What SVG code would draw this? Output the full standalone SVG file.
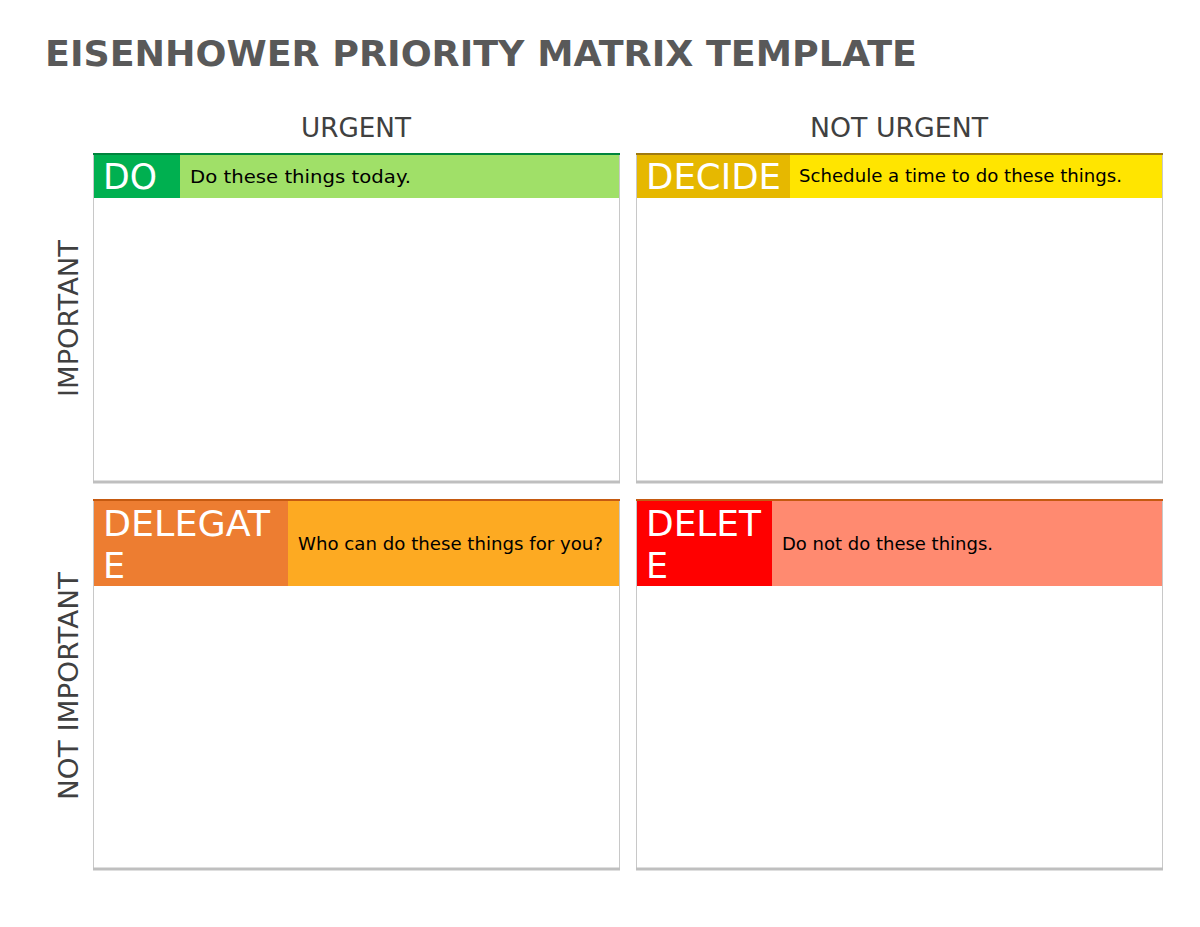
<svg xmlns="http://www.w3.org/2000/svg" width="1200" height="927" viewBox="0 0 1200 927">
<style>
.title{font-family:"DejaVu Sans",sans-serif;font-weight:bold;font-size:35px;fill:#595959}
.axis{font-family:"DejaVu Sans",sans-serif;font-size:26px;fill:#404040}
.tag{font-family:"DejaVu Sans",sans-serif;font-size:35px;fill:#ffffff}
.desc{font-family:"DejaVu Sans",sans-serif;font-size:18px;fill:#000000}
.body{fill:#ffffff;stroke:#c8c8c8;stroke-width:1}
.base{stroke:#bfbfbf;stroke-width:3}
</style>
<rect width="1200" height="927" fill="#ffffff"/>
<text class="title" x="45" y="66" textLength="872" lengthAdjust="spacingAndGlyphs">EISENHOWER PRIORITY MATRIX TEMPLATE</text>
<text class="axis" x="301" y="137" textLength="110" lengthAdjust="spacingAndGlyphs">URGENT</text>
<text class="axis" x="810" y="137" textLength="178" lengthAdjust="spacingAndGlyphs">NOT URGENT</text>
<text class="axis" transform="translate(78,397) rotate(-90)" textLength="157" lengthAdjust="spacingAndGlyphs">IMPORTANT</text>
<text class="axis" transform="translate(78,800) rotate(-90)" textLength="228" lengthAdjust="spacingAndGlyphs">NOT IMPORTANT</text>

<g id="do">
<rect class="body" x="93.5" y="154" width="526" height="328"/>
<line class="base" x1="93" y1="482" x2="620" y2="482"/>
<rect x="94" y="155" width="525" height="43" fill="#a0e068"/>
<rect x="94" y="155" width="86" height="43" fill="#00b050"/>
<line x1="93" y1="154" x2="620" y2="154" stroke="#00843d" stroke-width="2"/>
<text class="tag" x="103" y="189" textLength="54" lengthAdjust="spacingAndGlyphs">DO</text>
<text class="desc" x="190" y="183" textLength="221" lengthAdjust="spacingAndGlyphs">Do these things today.</text>
</g>

<g id="decide">
<rect class="body" x="636.5" y="154" width="526" height="328"/>
<line class="base" x1="636" y1="482" x2="1163" y2="482"/>
<rect x="637" y="155" width="525" height="43" fill="#ffe500"/>
<rect x="637" y="155" width="153" height="43" fill="#e6b800"/>
<line x1="636" y1="154" x2="1163" y2="154" stroke="#a07a10" stroke-width="2"/>
<text class="tag" x="646" y="189" textLength="135" lengthAdjust="spacingAndGlyphs">DECIDE</text>
<text class="desc" x="799" y="182" textLength="323" lengthAdjust="spacingAndGlyphs">Schedule a time to do these things.</text>
</g>

<g id="delegate">
<rect class="body" x="93.5" y="500" width="526" height="369"/>
<line class="base" x1="93" y1="869" x2="620" y2="869"/>
<rect x="94" y="501" width="525" height="85" fill="#fdaa22"/>
<rect x="94" y="501" width="194" height="85" fill="#ed7d31"/>
<line x1="93" y1="500" x2="620" y2="500" stroke="#c55a11" stroke-width="2"/>
<text class="tag" x="103" y="536" textLength="167" lengthAdjust="spacingAndGlyphs">DELEGAT</text>
<text class="tag" x="103" y="578">E</text>
<text class="desc" x="298" y="550" textLength="305" lengthAdjust="spacingAndGlyphs">Who can do these things for you?</text>
</g>

<g id="delete">
<rect class="body" x="636.5" y="500" width="526" height="369"/>
<line class="base" x1="636" y1="869" x2="1163" y2="869"/>
<rect x="637" y="501" width="525" height="85" fill="#ff8a70"/>
<rect x="637" y="501" width="135" height="85" fill="#ff0000"/>
<line x1="636" y1="500" x2="1163" y2="500" stroke="#c55a11" stroke-width="2"/>
<text class="tag" x="646" y="536" textLength="115" lengthAdjust="spacingAndGlyphs">DELET</text>
<text class="tag" x="646" y="578">E</text>
<text class="desc" x="782" y="550" textLength="211" lengthAdjust="spacingAndGlyphs">Do not do these things.</text>
</g>
<g id="connectors"></g>
</svg>
